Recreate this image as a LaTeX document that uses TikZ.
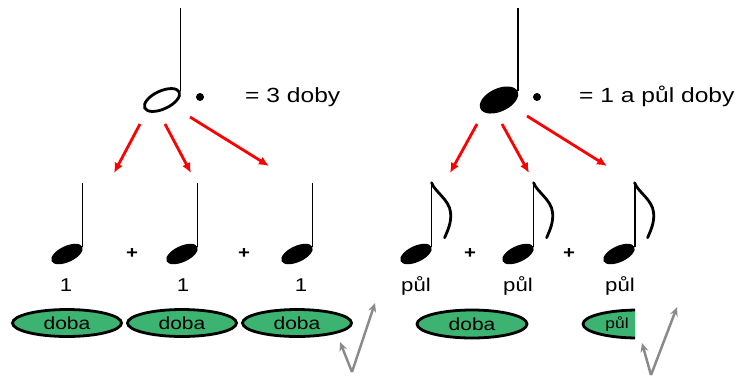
\documentclass[tikz,border=0pt]{standalone}
\usepackage{fontspec}
\usepackage{tikz}
\usetikzlibrary{arrows.meta,calc,shapes.geometric}
\newfontfamily\notefont[FakeStretch=1.2]{Liberation Sans}
\definecolor{dobagreen}{HTML}{3CB371}
\definecolor{checkgray}{HTML}{8A8A8A}
\definecolor{splitred}{HTML}{FF0000}

\begin{document}
\begin{tikzpicture}[
  x=1pt,
  y=-1pt,
  font=\notefont,
  hollowhead/.style={ellipse, draw, line width=2.8pt, minimum width=38pt,
    minimum height=18pt, inner sep=0pt, rotate=25},
  bighead/.style={ellipse, fill, minimum width=41pt, minimum height=23pt,
    inner sep=0pt, rotate=25},
  head/.style={ellipse, fill, minimum width=34pt, minimum height=16pt,
    inner sep=0pt, rotate=25},
  stem/.style={line width=1.8pt},
  flag/.style={line width=2.8pt, line cap=round},
  dotnote/.style={circle, fill, minimum size=8pt, inner sep=0pt},
  eqtext/.style={anchor=base west, inner sep=0pt, font=\notefont\fontsize{20.5}{24}\selectfont},
  count/.style={anchor=base, inner sep=0pt, font=\notefont\fontsize{18.5}{22}\selectfont},
  plus/.style={inner sep=0pt, font=\notefont\bfseries\fontsize{17}{20}\selectfont},
  dobacell/.style={ellipse, draw, fill=dobagreen, line width=2.8pt,
    minimum width=109pt, minimum height=27pt, inner sep=0pt,
    font=\notefont\fontsize{17.5}{20}\selectfont},
  split/.style={-{Latex[length=10pt,width=9pt]}, draw=splitred, line width=2.8pt},
  tick/.style={-{Stealth[length=9pt,width=8pt]}, draw=checkgray, line width=2.5pt}
]
\useasboundingbox (0,0) rectangle (743,376);

% Dotted half note = 3 doby
\node[hollowhead] (half) at (162,100) {};
\draw[stem] (half.east) -- ++(0,-83);
\node[dotnote] (halfdot) at (200,97) {};
\node[eqtext] (halfeq) at (245,102) {= 3 doby};

% Three quarter notes
\node[head] (q1) at (67,254) {};
\node[head] (q2) at (182,254) {};
\node[head] (q3) at (297,254) {};
\draw[stem] (q1.east) -- ++(0,-64);
\draw[stem] (q2.east) -- ++(0,-64);
\draw[stem] (q3.east) -- ++(0,-64);
\node[plus] (qplus1) at (132,254) {+};
\node[plus] (qplus2) at (244,254) {+};
\node[count] (qc1) at (66,291) {1};
\node[count] (qc2) at (183,291) {1};
\node[count] (qc3) at (301,291) {1};

% Splitting into quarters
\coordinate (hs1) at (140,124);
\coordinate (hs2) at (165,124);
\coordinate (hs3) at (190,117);
\coordinate (ht1) at (114,173);
\coordinate (ht2) at (191,173);
\coordinate (ht3) at (269,166);
\draw[split] (hs1) -- (ht1);
\draw[split] (hs2) -- (ht2);
\draw[split] (hs3) -- (ht3);

% Beats of the quarters
\node[dobacell] (d1) at (67,323) {doba};
\node[dobacell] (d2) at (182,323) {doba};
\node[dobacell] (d3) at (297,323) {doba};

\coordinate (lcheck) at (352,372);
\draw[tick] (lcheck) -- (340,342);
\draw[tick] (lcheck) -- (375,303);

% Dotted quarter note = 1 a pul doby
\node[bighead] (quart) at (499,100) {};
\draw[stem] (quart.east) -- ++(0,-83);
\node[dotnote] (quartdot) at (537,97) {};
\node[eqtext] (quarteq) at (579,102) {= 1 a půl doby};

% Three eighth notes
\node[head] (e1) at (416,254) {};
\node[head] (e2) at (518,254) {};
\node[head] (e3) at (619,254) {};
\draw[stem] (e1.east) -- ++(0,-64) coordinate (e1top);
\draw[stem] (e2.east) -- ++(0,-64) coordinate (e2top);
\draw[stem] (e3.east) -- ++(0,-64) coordinate (e3top);
\draw[flag] (e1top) .. controls ($(e1top)+(3,9)$) and ($(e1top)+(18,17)$) .. ($(e1top)+(19,30)$)
      .. controls ($(e1top)+(20,40)$) and ($(e1top)+(16,48)$) .. ($(e1top)+(13,55)$);
\draw[flag] (e2top) .. controls ($(e2top)+(3,9)$) and ($(e2top)+(18,17)$) .. ($(e2top)+(19,30)$)
      .. controls ($(e2top)+(20,40)$) and ($(e2top)+(16,48)$) .. ($(e2top)+(13,55)$);
\draw[flag] (e3top) .. controls ($(e3top)+(3,9)$) and ($(e3top)+(18,17)$) .. ($(e3top)+(19,30)$)
      .. controls ($(e3top)+(20,40)$) and ($(e3top)+(16,48)$) .. ($(e3top)+(13,55)$);
\node[plus] (eplus1) at (470,254) {+};
\node[plus] (eplus2) at (569,254) {+};
\node[count] (ec1) at (416,291) {půl};
\node[count] (ec2) at (518,291) {půl};
\node[count] (ec3) at (620,291) {půl};

% Splitting into eighths
\coordinate (qs1) at (477,124);
\coordinate (qs2) at (502,124);
\coordinate (qs3) at (527,116);
\coordinate (qt1) at (450,173);
\coordinate (qt2) at (529,173);
\coordinate (qt3) at (607,166);
\draw[split] (qs1) -- (qt1);
\draw[split] (qs2) -- (qt2);
\draw[split] (qs3) -- (qt3);

% One beat and a half beat
\node[dobacell, minimum width=110pt, minimum height=28pt] (d4) at (472,324) {doba};
\begin{scope}
  \clip (570,295) rectangle (635,350);
  \node[dobacell, minimum width=110pt, minimum height=28pt] (halfdoba) at (638,324) {};
\end{scope}
\node[font=\notefont\fontsize{14.5}{17}\selectfont, inner sep=0pt] (halfpul) at (617,324) {půl};

\coordinate (rcheck) at (651,375);
\draw[tick] (rcheck) -- (642,343);
\draw[tick] (rcheck) -- (677,307);
\end{tikzpicture}
\end{document}
